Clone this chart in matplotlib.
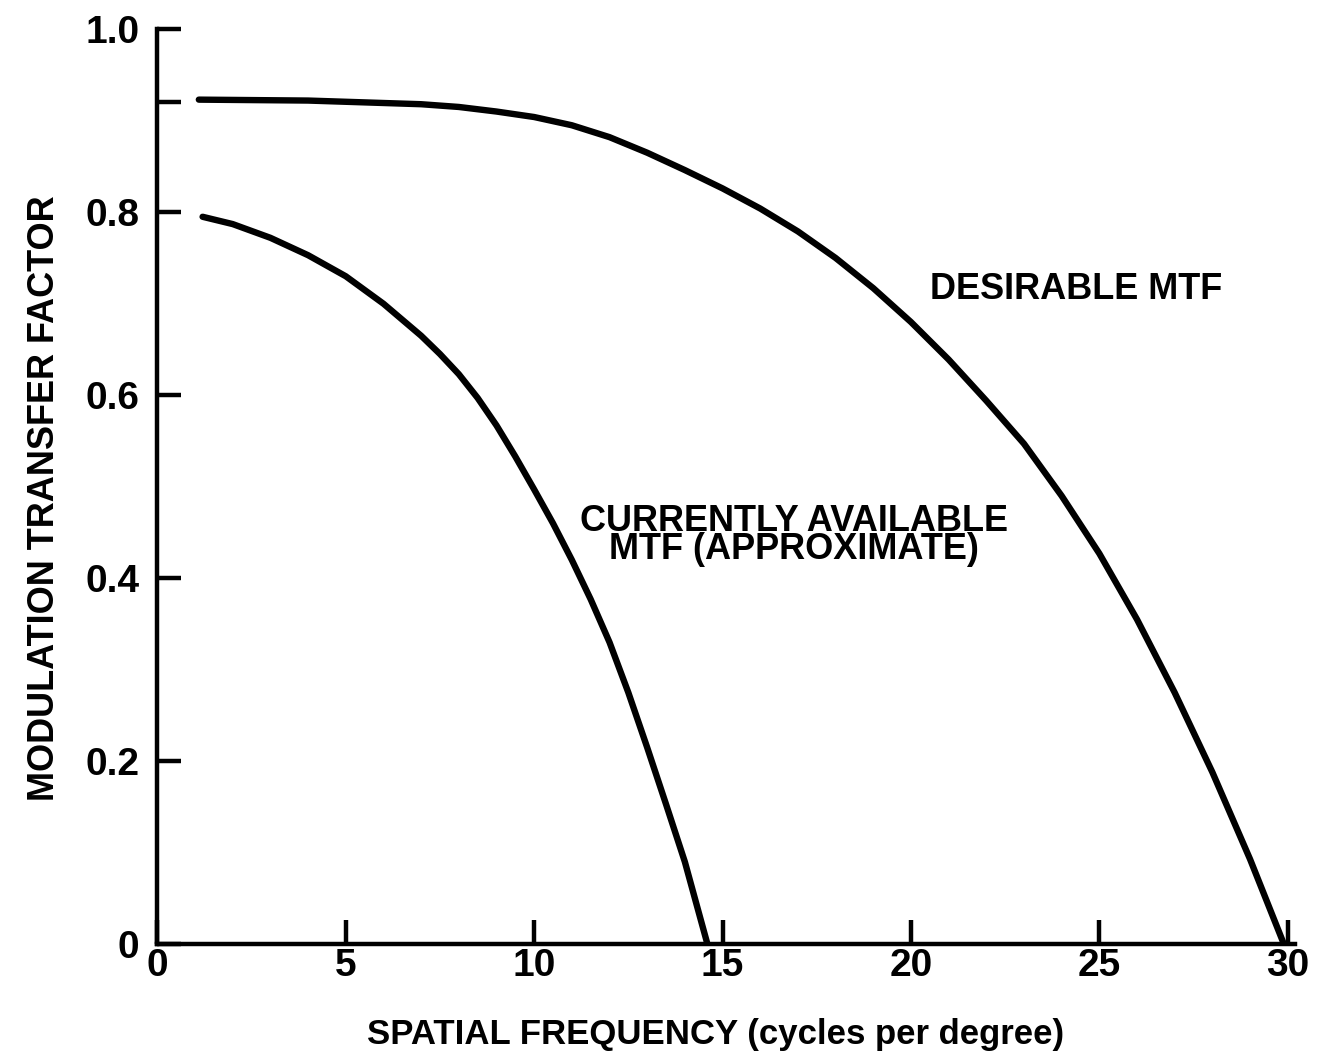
import matplotlib
matplotlib.use("Agg")
import matplotlib.pyplot as plt

plt.rcParams['font.family'] = ['Liberation Sans', 'DejaVu Sans']
plt.rcParams['font.weight'] = 'bold'

# values (spatial frequency, cycles/degree)
desirable_x = [1.1, 4, 7, 8, 9, 10, 11, 12, 13, 14, 15, 16, 17, 18, 19,
               20, 21, 22, 23, 24, 25, 26, 27, 28, 29, 29.9]
desirable_y = [0.923, 0.922, 0.918, 0.915, 0.91, 0.904, 0.895, 0.882, 0.865,
               0.846, 0.826, 0.804, 0.779, 0.750, 0.717, 0.680, 0.639, 0.594,
               0.547, 0.49, 0.427, 0.355, 0.275, 0.188, 0.093, 0.0]

current_x = [1.2, 2, 3, 4, 5, 6, 7, 7.5, 8, 8.5, 9, 9.5, 10, 10.5, 11,
             11.5, 12, 12.5, 13, 13.5, 14, 14.6]
current_y = [0.795, 0.787, 0.772, 0.753, 0.73, 0.70, 0.665, 0.645, 0.623,
             0.597, 0.567, 0.533, 0.497, 0.46, 0.42, 0.377, 0.33, 0.275,
             0.215, 0.153, 0.09, 0.0]

x_ticks = [0, 5, 10, 15, 20, 25, 30]
x_labels = ["0", "5", "10", "15", "20", "25", "30"]
y_ticks = [0, 0.2, 0.4, 0.6, 0.8, 1.0]
y_labels = ["0", "0.2", "0.4", "0.6", "0.8", "1.0"]

fig = plt.figure(figsize=(13.17, 10.61), dpi=100)
ax = fig.add_axes([0.1195, 0.11, 0.864, 0.8625])

ax.plot(desirable_x, desirable_y, color="black", lw=4.6,
        solid_capstyle="round", solid_joinstyle="round")
ax.plot(current_x, current_y, color="black", lw=4.6,
        solid_capstyle="round", solid_joinstyle="round")

ax.set_xlim(0, 30.2)
ax.set_ylim(0, 1.0)

for s in ["top", "right"]:
    ax.spines[s].set_visible(False)
for s in ["left", "bottom"]:
    ax.spines[s].set_linewidth(3.2)

ax.set_xticks(x_ticks)
ax.set_xticklabels(x_labels)
ax.set_yticks(y_ticks)
ax.set_yticklabels(y_labels)
ax.set_yticks([0.92], minor=True)
ax.tick_params(axis="both", direction="in", length=17, width=3.2,
               labelsize=28)
ax.tick_params(axis="x", pad=3)
ax.tick_params(axis="y", pad=13)
ax.tick_params(axis="y", which="minor", direction="in", length=17, width=3.2)

ax.text(20.5, 0.716, "DESIRABLE MTF", fontsize=26, fontweight="bold",
        va="center", ha="left")
ax.text(16.9, 0.447, "CURRENTLY AVAILABLE\nMTF (APPROXIMATE)", fontsize=26,
        fontweight="bold", va="center", ha="center", linespacing=0.75)

fig.text(0.034, 0.53, "MODULATION TRANSFER FACTOR", rotation=90,
         fontsize=26, fontweight="bold", va="center", ha="center")
fig.text(0.543, 0.025, "SPATIAL FREQUENCY (cycles per degree)",
         fontsize=25, fontweight="bold", va="center", ha="center")

fig.savefig("out.png", dpi=100)
